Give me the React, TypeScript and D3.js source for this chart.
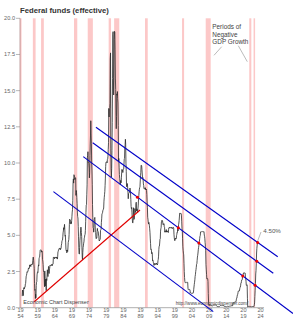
import React from 'react';
import * as d3 from 'd3';

// Effective federal funds rate, monthly, from July 1954
const startYear = 1954.5;
const rates1950s = [
  0.80,1.22,1.07,0.85,0.83,1.28,
  1.39,1.29,1.35,1.43,1.43,1.64,1.68,1.96,2.18,2.24,2.35,2.48,
  2.45,2.50,2.50,2.62,2.75,2.71,2.75,2.73,2.95,2.96,2.88,2.94,
  2.84,3.00,2.96,3.00,3.00,3.00,2.99,3.24,3.47,3.50,3.28,2.98,
  2.72,1.67,1.20,1.26,0.63,0.93,0.68,1.53,1.76,1.80,2.27,2.42,
  2.48,2.43,2.80,2.96,2.90,3.39,3.47,3.50,3.76,3.98,4.00,3.99,
];
const rates1960s = [
  3.99,3.97,3.84,3.92,3.85,3.32,3.23,2.98,2.60,2.47,2.44,1.98,
  1.45,2.54,2.02,1.49,1.98,1.73,1.17,2.00,1.88,2.26,2.62,2.33,
  2.15,2.37,2.85,2.78,2.36,2.68,2.71,2.93,2.90,2.90,2.94,2.93,
  2.92,3.00,2.98,2.90,3.00,2.99,3.02,3.49,3.48,3.50,3.48,3.38,
  3.48,3.48,3.43,3.47,3.50,3.50,3.42,3.50,3.45,3.36,3.52,3.85,
  3.90,3.98,4.04,4.09,4.10,4.04,4.09,4.12,4.01,4.08,4.10,4.32,
  4.42,4.60,4.65,4.67,4.90,5.17,5.30,5.53,5.40,5.53,5.76,5.40,
  4.94,5.00,4.53,4.05,3.94,3.98,3.79,3.90,3.99,3.88,4.13,4.51,
  4.61,4.71,5.05,5.76,6.12,6.07,6.02,6.03,5.78,5.91,5.82,6.02,
  6.30,6.61,6.79,7.41,8.67,8.90,8.61,9.19,9.15,9.00,8.85,8.97,
];
const rates1970s = [
  8.98,8.98,7.76,8.10,7.95,7.61,7.21,6.61,6.29,6.20,5.60,4.90,
  4.14,3.72,3.71,4.16,4.63,4.91,5.31,5.57,5.55,5.20,4.91,4.14,
  3.50,3.29,3.83,4.17,4.27,4.46,4.55,4.80,4.87,5.04,5.06,5.33,
  5.94,6.58,7.09,7.12,7.84,8.49,10.40,10.50,10.78,10.01,10.03,9.95,
  9.65,8.97,9.35,10.51,11.31,11.93,12.92,12.01,11.34,10.06,9.45,8.53,
  7.13,6.24,5.54,5.49,5.22,5.55,6.10,6.14,6.24,5.82,5.22,5.20,
  4.87,4.77,4.84,4.82,5.29,5.48,5.31,5.29,5.25,5.02,4.95,4.65,
  4.61,4.68,4.69,4.73,5.35,5.39,5.42,5.90,6.14,6.47,6.51,6.56,
  6.70,6.78,6.79,6.89,7.36,7.60,7.81,8.04,8.45,8.96,9.76,10.03,
  10.07,10.06,10.09,10.01,10.24,10.29,10.47,10.94,11.43,13.77,13.18,13.78,
];
const rates1980s = [
  13.82,14.13,17.19,17.61,10.98,9.47,9.03,9.61,10.87,12.81,15.85,18.90,
  19.08,15.93,14.70,15.72,18.52,19.10,19.04,17.82,15.87,15.08,13.31,12.37,
  13.22,14.78,14.68,14.94,14.45,14.15,12.59,10.12,10.31,9.71,9.20,8.95,
  8.68,8.51,8.77,8.80,8.63,8.98,9.37,9.56,9.45,9.48,9.34,9.47,
  9.56,9.59,9.91,10.29,10.32,11.06,11.23,11.64,11.30,9.99,9.43,8.38,
  8.35,8.50,8.58,8.27,7.97,7.53,7.88,7.90,7.92,7.99,8.05,8.27,
  8.14,7.86,7.48,6.99,6.85,6.92,6.56,6.17,5.89,5.85,6.04,6.91,
  6.43,6.10,6.13,6.37,6.85,6.73,6.58,6.73,7.22,7.29,6.69,6.77,
  6.83,6.58,6.58,6.87,7.09,7.51,7.75,8.01,8.19,8.30,8.35,8.76,
  9.12,9.36,9.85,9.84,9.81,9.53,9.24,8.99,9.02,8.84,8.55,8.45,
];
const rates1990s = [
  8.23,8.24,8.28,8.26,8.18,8.29,8.15,8.13,8.20,8.11,7.81,7.31,
  6.91,6.25,6.12,5.91,5.78,5.90,5.82,5.66,5.45,5.21,4.81,4.43,
  4.03,4.06,3.98,3.73,3.82,3.76,3.25,3.30,3.22,3.10,3.09,2.92,
  3.02,3.03,3.07,2.96,3.00,3.04,3.06,3.03,3.09,2.99,3.02,2.96,
  3.05,3.25,3.34,3.56,4.01,4.25,4.26,4.47,4.73,4.76,5.29,5.45,
  5.53,5.92,5.98,6.05,6.01,6.00,5.85,5.74,5.80,5.76,5.80,5.60,
  5.56,5.22,5.31,5.22,5.24,5.27,5.40,5.22,5.30,5.24,5.31,5.29,
  5.25,5.19,5.39,5.51,5.50,5.56,5.52,5.54,5.54,5.50,5.52,5.50,
  5.56,5.51,5.49,5.45,5.49,5.56,5.54,5.55,5.51,5.07,4.83,4.68,
  4.63,4.76,4.81,4.74,4.74,4.76,4.99,5.07,5.22,5.20,5.42,5.30,
];
const rates2000s = [
  5.45,5.73,5.85,6.02,6.27,6.53,6.54,6.50,6.52,6.51,6.51,6.40,
  5.98,5.49,5.31,4.80,4.21,3.97,3.77,3.65,3.07,2.49,2.09,1.82,
  1.73,1.74,1.73,1.75,1.75,1.75,1.73,1.74,1.75,1.75,1.34,1.24,
  1.24,1.26,1.25,1.26,1.26,1.22,1.01,1.03,1.01,1.01,1.00,0.98,
  1.00,1.01,1.00,1.00,1.00,1.03,1.26,1.43,1.61,1.76,1.93,2.16,
  2.28,2.50,2.63,2.79,3.00,3.04,3.26,3.50,3.62,3.78,4.00,4.16,
  4.29,4.49,4.59,4.79,4.94,4.99,5.24,5.25,5.25,5.25,5.25,5.24,
  5.25,5.26,5.26,5.25,5.25,5.25,5.26,5.02,4.94,4.76,4.49,4.24,
  3.94,2.98,2.61,2.28,1.98,2.00,2.01,2.00,1.81,0.97,0.39,0.16,
  0.15,0.22,0.18,0.15,0.18,0.21,0.16,0.16,0.15,0.12,0.12,0.12,
];
const rates2010s = [
  0.11,0.13,0.16,0.20,0.20,0.18,0.18,0.19,0.19,0.19,0.19,0.18,
  0.17,0.16,0.14,0.10,0.09,0.09,0.07,0.10,0.08,0.07,0.08,0.07,
  0.08,0.10,0.13,0.14,0.16,0.16,0.16,0.13,0.14,0.16,0.16,0.16,
  0.14,0.15,0.14,0.15,0.11,0.09,0.09,0.08,0.08,0.09,0.08,0.09,
  0.07,0.07,0.08,0.09,0.09,0.10,0.09,0.09,0.09,0.09,0.09,0.12,
  0.11,0.11,0.11,0.12,0.12,0.13,0.13,0.14,0.14,0.12,0.12,0.24,
  0.34,0.38,0.36,0.37,0.37,0.38,0.39,0.40,0.40,0.40,0.41,0.54,
  0.65,0.66,0.79,0.90,0.91,1.04,1.15,1.16,1.15,1.15,1.16,1.30,
  1.41,1.42,1.51,1.69,1.70,1.82,1.91,1.91,1.95,2.19,2.20,2.27,
  2.40,2.40,2.41,2.42,2.39,2.38,2.40,2.13,2.04,1.83,1.55,1.55,
];
const rates2020s = [
  1.55,1.58,0.65,0.05,0.05,0.08,0.09,0.10,0.09,0.09,0.09,0.09,
  0.09,0.08,0.07,0.07,0.06,0.08,0.10,0.09,0.08,0.08,0.08,0.08,
  0.08,0.08,0.20,0.33,0.77,1.21,1.68,2.33,2.56,3.08,3.78,4.10,
  4.33,4.57,
];

// Periods of negative GDP growth (shaded)
const bandStarts = [1953.75, 1957.6, 1960.0, 1969.6, 1973.6, 1979.7, 1981.3, 1990.3, 2001.1, 2008.0, 2020.7, 2021.95];
const bandEnds   = [1954.3, 1958.4, 1960.8, 1970.55, 1975.1, 1980.4, 1982.8, 1991.1, 2001.7, 2009.45, 2021.3, 2022.4];

// Trend channel lines [startYear, startValue, endYear, endValue]
const blueLines = [
  [1963.6, 8.02, 2010.2, -0.27],
  [1972.3, 10.44, 2033.45, -0.4],
  [1975.05, 11.4, 2027.7, 2.38],
  [1976.0, 12.47, 2029.0, 3.52],
];
const redLine = [1958.0, 0.41, 1988.85, 6.75];

// Crossing points: year and which blue line
const crossYears = [1988.1, 2000.0, 2006.0, 2018.8, 2022.4, 2022.9, 2023.15];
const crossLine  = [1, 1, 1, 1, 1, 2, 3];

const xTickYears = d3.range(1954, 2025, 5);
const yTickValues = d3.range(0, 20.01, 2.5);

const FONT = 'Liberation Sans, Arial, Helvetica, sans-serif';

export default function App() {
  const x = d3.scaleLinear().domain([1954, 2033.45]).range([20.5, 293]);
  const y = d3.scaleLinear().domain([0, 20]).range([307.7, 18.3]);

  const allRates = [
    ...rates1950s, ...rates1960s, ...rates1970s, ...rates1980s,
    ...rates1990s, ...rates2000s, ...rates2010s, ...rates2020s,
  ];
  const series = allRates.map((v, i) => ({ t: startYear + i / 12, v }));
  const line = d3.line<{ t: number; v: number }>().x(d => x(d.t)).y(d => y(d.v));

  const lineVal = (l: number[], t: number) =>
    l[1] + ((l[3] - l[1]) * (t - l[0])) / (l[2] - l[0]);

  const x0 = 20;
  const yTop = y(20);
  const yBot = y(0);

  return (
    <svg width={293} height={320} style={{ position: 'absolute', left: 0, top: 0, background: '#fff' }}
      fontFamily={FONT}>
      {/* shaded bands */}
      {bandStarts.map((s, i) => {
        const a = Math.max(x0, x(s));
        const b = x(bandEnds[i]);
        return <rect key={i} x={a} y={yTop} width={b - a} height={yBot - yTop} fill="#fcc8c8" />;
      })}
      {/* axes */}
      <line x1={x0} x2={x0} y1={yTop} y2={yBot} stroke="#b08a8a" strokeWidth={0.8} />
      <line x1={x0} x2={x(2025)} y1={yBot} y2={yBot} stroke="#999" strokeWidth={0.8} />
      {yTickValues.map(v => (
        <g key={v}>
          <line x1={x0 - 4} x2={x0} y1={y(v)} y2={y(v)} stroke="#888" strokeWidth={0.6} />
          <text x={x0 - 5} y={y(v) + 2} fontSize={5.6} fill="#666" textAnchor="end">{v.toFixed(1)}</text>
        </g>
      ))}
      {xTickYears.map(t => {
        const s = String(t);
        return (
          <g key={t}>
            <text x={x(t)} y={312} fontSize={5.6} fill="#666" textAnchor="middle">{s.slice(0, 2)}</text>
            <text x={x(t)} y={317.5} fontSize={5.6} fill="#666" textAnchor="middle">{s.slice(2)}</text>
          </g>
        );
      })}

      {/* data */}
      <path d={line(series) || ''} fill="none" stroke="#2a2a2a" strokeWidth={0.8} strokeLinejoin="round" />

      {/* red trend */}
      <line x1={x(redLine[0])} y1={y(redLine[1])} x2={x(redLine[2])} y2={y(redLine[3])}
        stroke="#e00000" strokeWidth={1.1} />
      {/* blue channel */}
      {blueLines.map((l, i) => (
        <line key={i} x1={x(l[0])} y1={y(l[1])} x2={x(l[2])} y2={y(l[3])} stroke="#0000c8" strokeWidth={1.1} />
      ))}
      {crossYears.map((t, i) => (
        <circle key={i} cx={x(t)} cy={y(lineVal(blueLines[crossLine[i]], t))} r={1.5} fill="#ee0000" />
      ))}

      {/* texts */}
      <text x={20} y={13} fontSize={7.7} fontWeight="bold" fill="#333">Federal funds (effective)</text>
      <text fontSize={6.4} fill="#444">
        <tspan x={212.3} y={29.3}>Periods of</tspan>
        <tspan x={212.3} y={36.8}>Negative</tspan>
        <tspan x={212.3} y={44.3}>GDP Growth</tspan>
      </text>
      <line x1={221.7} y1={46.7} x2={214} y2={55.3} stroke="#777" strokeWidth={0.5} />
      <line x1={238.3} y1={45.7} x2={247.3} y2={61.7} stroke="#777" strokeWidth={0.5} />
      <text x={263.3} y={233} fontSize={6.2} fill="#555">4.50%</text>
      <line x1={261} y1={232} x2={x(2023.15)} y2={y(4.51) - 1.5} stroke="#777" strokeWidth={0.5} />
      <text x={23.3} y={304} fontSize={5.5} fill="#444">Economic Chart Dispenser</text>
      <text x={175.7} y={304.5} fontSize={5} fill="#444" textLength={72.5} lengthAdjust="spacingAndGlyphs">http://www.economicdispenser.com/</text>
    </svg>
  );
}
